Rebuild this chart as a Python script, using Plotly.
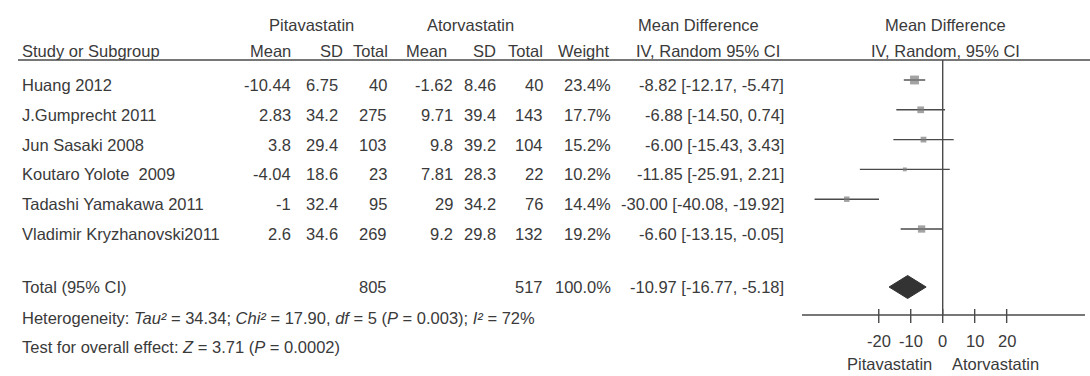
import plotly.graph_objects as go

# ---- study data ----
studies = ["Huang 2012", "J.Gumprecht 2011", "Jun Sasaki 2008", "Koutaro Yolote  2009",
           "Tadashi Yamakawa 2011", "Vladimir Kryzhanovski2011"]
pita_mean = [-10.44, 2.83, 3.8, -4.04, -1, 2.6]
pita_sd = [6.75, 34.2, 29.4, 18.6, 32.4, 34.6]
pita_n = [40, 275, 103, 23, 95, 269]
ator_mean = [-1.62, 9.71, 9.8, 7.81, 29, 9.2]
ator_sd = [8.46, 39.4, 39.2, 28.3, 34.2, 29.8]
ator_n = [40, 143, 104, 22, 76, 132]
weight = [23.4, 17.7, 15.2, 10.2, 14.4, 19.2]
md = [-8.82, -6.88, -6.00, -11.85, -30.00, -6.60]
ci_lo = [-12.17, -14.50, -15.43, -25.91, -40.08, -13.15]
ci_hi = [-5.47, 0.74, 3.43, 2.21, -19.92, -0.05]

# pooled result
total_pita = 805
total_ator = 517
total_weight = 100.0
pooled_md = -10.97
pooled_lo = -16.77
pooled_hi = -5.18

# heterogeneity / overall effect
tau2 = 34.34
chi2 = 17.90
df = 5
p_het = "0.003"
i2 = 72
z_val = 3.71
p_z = "0.0002"

tick_vals = [-20, -10, 0, 10, 20]
favours = ["Pitavastatin", "Atorvastatin"]

# ---- layout constants (pixels) ----
W, H = 1090, 376
FONT = "Liberation Sans, Arial, sans-serif"
TXT = "#3a3a3a"
LINE = "#4a4a4a"
FS = 16.5

row_y0, row_dy = 85, 29.8
row_y = [row_y0 + i * row_dy for i in range(len(studies))]
mark_dy = -5
total_y = 287
het_y, test_y = 318, 347
head1_y, head2_y, rule_y = 25, 51, 60
axis_y = 315
X_MIN, X_MAX = -44, 44.5


def px(x):
    return x / W


annotations = []


def text(x, y, s, anchor="left", size=FS):
    annotations.append(dict(x=px(x), y=y, xref="paper", yref="y", text=s, showarrow=False,
                            xanchor=anchor, yanchor="middle",
                            font=dict(family=FONT, size=size, color=TXT)))


# headers
text(311, head1_y, "Pitavastatin", "center")
text(470, head1_y, "Atorvastatin", "center")
text(698, head1_y, "Mean Difference", "center")
text(945, head1_y, "Mean Difference", "center")
text(20, head2_y, "Study or Subgroup")
text(293, head2_y, "Mean", "right")
text(345, head2_y, "SD", "right")
text(390, head2_y, "Total", "right")
text(449, head2_y, "Mean", "right")
text(498, head2_y, "SD", "right")
text(545, head2_y, "Total", "right")
text(611, head2_y, "Weight", "right")
text(708, head2_y, "IV, Random 95% CI", "center")
text(945, head2_y, "IV, Random, 95% CI", "center")

# study rows
for i, s in enumerate(studies):
    y = row_y[i]
    text(20, y, s)
    text(293, y, f"{pita_mean[i]:g}", "right")
    text(340, y, f"{pita_sd[i]:g}", "right")
    text(389, y, f"{pita_n[i]}", "right")
    text(455, y, f"{ator_mean[i]:g}", "right")
    text(498, y, f"{ator_sd[i]:g}", "right")
    text(545, y, f"{ator_n[i]}", "right")
    text(613, y, f"{weight[i]:.1f}%", "right")
    text(786, y, f"{md[i]:.2f} [{ci_lo[i]:.2f}, {ci_hi[i]:.2f}]", "right")

# total row
text(20, total_y, "Total (95% CI)")
text(389, total_y, f"{total_pita}", "right")
text(545, total_y, f"{total_ator}", "right")
text(613, total_y, f"{total_weight:.1f}%", "right")
text(786, total_y, f"{pooled_md:.2f} [{pooled_lo:.2f}, {pooled_hi:.2f}]", "right")

text(20, het_y, f"Heterogeneity: <i>Tau²</i> = {tau2:.2f}; <i>Chi²</i> = {chi2:.2f}, "
                f"<i>df</i> = {df} (<i>P</i> = {p_het}); <i>I²</i> = {i2}%")
text(20, test_y, f"Test for overall effect: <i>Z</i> = {z_val:.2f} (<i>P</i> = {p_z})")

fig = go.Figure()

# confidence interval whiskers
cx, cy = [], []
for i in range(len(studies)):
    cx += [ci_lo[i], ci_hi[i], None]
    cy += [row_y[i] + mark_dy] * 2 + [None]
fig.add_trace(go.Scatter(x=cx, y=cy, mode="lines", line=dict(color=LINE, width=1.4),
                         hoverinfo="skip", showlegend=False))

# weighted squares
fig.add_trace(go.Scatter(x=md, y=[y + mark_dy for y in row_y], mode="markers",
                         marker=dict(symbol="square", size=[0.38 * w for w in weight],
                                     color="#7c7c7c", line=dict(width=0)),
                         showlegend=False))

# pooled diamond
dh = 11.5
fig.add_trace(go.Scatter(x=[pooled_lo, pooled_md, pooled_hi, pooled_md, pooled_lo],
                         y=[total_y, total_y - dh, total_y, total_y + dh, total_y],
                         mode="lines", fill="toself", fillcolor="#333333",
                         line=dict(color="#333333", width=1), showlegend=False))

# tick marks crossing the axis line
tx, ty = [], []
for t in tick_vals:
    tx += [t, t, None]
    ty += [axis_y - 6, axis_y + 8, None]
fig.add_trace(go.Scatter(x=tx, y=ty, mode="lines", line=dict(color=LINE, width=1.4),
                         hoverinfo="skip", showlegend=False))

for t in tick_vals:
    annotations.append(dict(x=t, y=341, xref="x", yref="y", text=f"{t}", showarrow=False,
                            xanchor="center", yanchor="middle",
                            font=dict(family=FONT, size=FS, color=TXT)))
text(889, 364, favours[0], "center")
text(995, 364, favours[1], "center")

shapes = [
    # header rule
    dict(type="line", xref="paper", yref="y", x0=px(18), x1=1, y0=rule_y, y1=rule_y,
         line=dict(color=LINE, width=1.4)),
    # line of no effect
    dict(type="line", xref="x", yref="y", x0=0, x1=0, y0=rule_y, y1=axis_y,
         line=dict(color=LINE, width=1.4)),
    # forest axis line
    dict(type="line", xref="x", yref="y", x0=X_MIN, x1=X_MAX, y0=axis_y, y1=axis_y,
         line=dict(color=LINE, width=1.4)),
]

fig.update_layout(
    width=W, height=H, margin=dict(l=0, r=0, t=0, b=0),
    paper_bgcolor="white", plot_bgcolor="white",
    xaxis=dict(domain=[802 / W, 1085 / W], range=[X_MIN, X_MAX], visible=False),
    yaxis=dict(domain=[0, 1], range=[H, 0], visible=False),
    annotations=annotations, shapes=shapes, showlegend=False,
)

fig.write_html("out.html")
